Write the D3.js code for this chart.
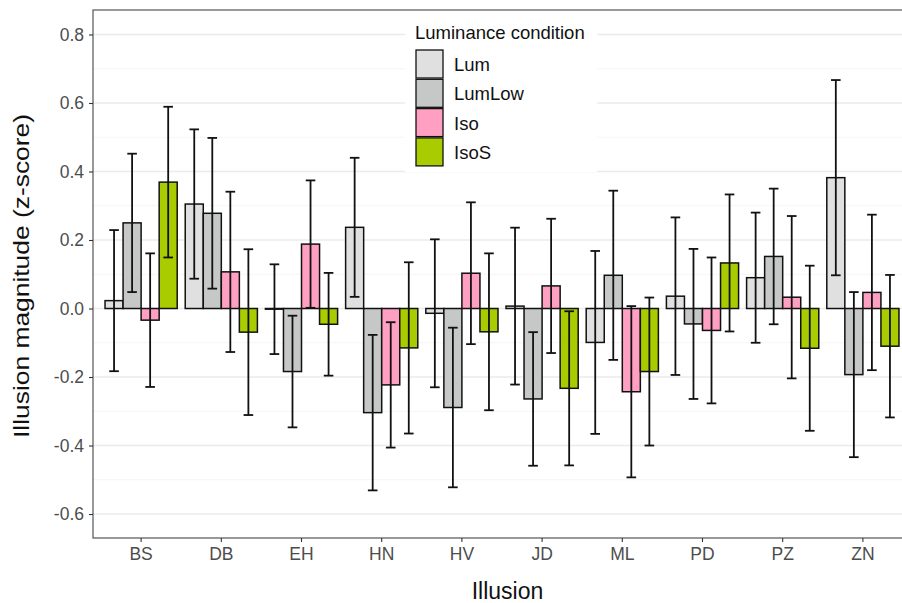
<!DOCTYPE html>
<html>
<head>
<meta charset="utf-8">
<script src="https://cdn.jsdelivr.net/npm/d3@7"></script>
<style>
  body { margin: 0; background: #fff; }
  text { font-family: "Liberation Sans", Arial, sans-serif; }
</style>
</head>
<body>
<div id="chart"></div>
<script>
var illusions = ["BS", "DB", "EH", "HN", "HV", "JD", "ML", "PD", "PZ", "ZN"];
var conditions = ["Lum", "LumLow", "Iso", "IsoS"];
var colors = ["#e0e0e0", "#c6c8c8", "#ff9fc2", "#a8cc00"];

// means per condition, one value per illusion
var lumMean    = [0.023, 0.305, -0.002, 0.237, -0.014, 0.007, -0.099, 0.036, 0.090, 0.382];
var lumLowMean = [0.250, 0.278, -0.184, -0.304, -0.289, -0.264, 0.097, -0.045, 0.152, -0.193];
var isoMean    = [-0.034, 0.107, 0.188, -0.223, 0.103, 0.066, -0.243, -0.064, 0.033, 0.047];
var isoSMean   = [0.369, -0.069, -0.046, -0.115, -0.068, -0.233, -0.184, 0.133, -0.116, -0.110];

// half width of the error bars
var lumErr    = [0.206, 0.218, 0.131, 0.203, 0.216, 0.229, 0.267, 0.230, 0.190, 0.285];
var lumLowErr = [0.202, 0.220, 0.163, 0.227, 0.233, 0.195, 0.247, 0.219, 0.198, 0.241];
var isoErr    = [0.195, 0.234, 0.186, 0.183, 0.207, 0.196, 0.250, 0.213, 0.237, 0.227];
var isoSErr   = [0.220, 0.242, 0.150, 0.250, 0.229, 0.225, 0.216, 0.200, 0.241, 0.208];

var yTicks = [-0.6, -0.4, -0.2, 0.0, 0.2, 0.4, 0.6, 0.8];
var yMinor = [-0.5, -0.3, -0.1, 0.1, 0.3, 0.5, 0.7];

var width = 902,
    height = 603;

var means = [lumMean, lumLowMean, isoMean, isoSMean];
var errs = [lumErr, lumLowErr, isoErr, isoSErr];

var data = [];
illusions.forEach(function(ill, i) {
    conditions.forEach(function(c, j) {
        data.push({ill: ill, cond: c, mean: means[j][i], err: errs[j][i]});
    });
});

var panel = {left: 93, top: 10, bottom: 538, right: 911};

var svg = d3.select("#chart")
    .append("svg")
    .attr("width", width)
    .attr("height", height);

var x = d3.scaleBand()
    .domain(illusions)
    .range([panel.left, panel.right])
    .paddingInner(0)
    .paddingOuter(0.1);

var xc = d3.scaleBand()
    .domain(conditions)
    .range([0, x.bandwidth() * 0.9]);

var y = d3.scaleLinear()
    .domain([-0.670, 0.8715])
    .range([panel.bottom, panel.top]);

var color = d3.scaleOrdinal().domain(conditions).range(colors);

// grid
svg.append("g").selectAll("line")
    .data(yMinor)
    .enter().append("line")
    .attr("x1", panel.left).attr("x2", panel.right)
    .attr("y1", function(d) { return y(d); })
    .attr("y2", function(d) { return y(d); })
    .style("stroke", "#f2f2f2")
    .style("stroke-width", 0.8);

svg.append("g").selectAll("line")
    .data(yTicks)
    .enter().append("line")
    .attr("x1", panel.left).attr("x2", panel.right)
    .attr("y1", function(d) { return y(d); })
    .attr("y2", function(d) { return y(d); })
    .style("stroke", "#ebebeb")
    .style("stroke-width", 1.3);

// bars
var bw = xc.bandwidth();
function bx(d) { return x(d.ill) + x.bandwidth() * 0.05 + xc(d.cond); }

svg.append("g").selectAll("rect")
    .data(data)
    .enter().append("rect")
    .attr("x", bx)
    .attr("width", bw)
    .attr("y", function(d) { return y(Math.max(0, d.mean)); })
    .attr("height", function(d) { return Math.abs(y(d.mean) - y(0)); })
    .style("fill", function(d) { return color(d.cond); })
    .style("stroke", "#111")
    .style("stroke-width", 1.5);

// error bars
var eb = svg.append("g").selectAll("g")
    .data(data)
    .enter().append("g")
    .style("stroke", "#111")
    .style("stroke-width", 1.8);

eb.append("line")
    .attr("x1", function(d) { return bx(d) + bw / 2; })
    .attr("x2", function(d) { return bx(d) + bw / 2; })
    .attr("y1", function(d) { return y(d.mean + d.err); })
    .attr("y2", function(d) { return y(d.mean - d.err); });

[1, -1].forEach(function(s) {
    eb.append("line")
        .attr("x1", function(d) { return bx(d) + bw / 2 - 4.8; })
        .attr("x2", function(d) { return bx(d) + bw / 2 + 4.8; })
        .attr("y1", function(d) { return y(d.mean + s * d.err); })
        .attr("y2", function(d) { return y(d.mean + s * d.err); });
});

// panel border
svg.append("rect")
    .attr("x", panel.left).attr("y", panel.top)
    .attr("width", panel.right - panel.left)
    .attr("height", panel.bottom - panel.top)
    .style("fill", "none")
    .style("stroke", "#555")
    .style("stroke-width", 1.2);

// axes
var yAxis = svg.append("g")
    .attr("transform", "translate(" + panel.left + ",0)")
    .call(d3.axisLeft(y).tickValues(yTicks).tickSize(4).tickPadding(5)
        .tickFormat(d3.format(".1f")));
var xAxis = svg.append("g")
    .attr("transform", "translate(0," + panel.bottom + ")")
    .call(d3.axisBottom(x).tickSize(4).tickPadding(6));

[yAxis, xAxis].forEach(function(a) {
    a.select(".domain").remove();
    a.selectAll("line").style("stroke", "#333").style("stroke-width", 1.1);
    a.selectAll("text")
        .style("font-size", "17.5px")
        .style("fill", "#4d4d4d")
        .style("font-family", "'Liberation Sans', Arial, sans-serif");
});
yAxis.selectAll("text").text(function(d) { return d3.format(".1f")(d).replace("−", "-"); });

svg.append("text")
    .attr("x", (panel.left + 922) / 2)
    .attr("y", 599)
    .attr("text-anchor", "middle")
    .style("font-size", "23px")
    .style("fill", "#111")
    .text("Illusion");

svg.append("text")
    .attr("transform", "translate(29," + ((panel.top + panel.bottom) / 2 + 2) + ") rotate(-90) scale(1.2,1)")
    .attr("text-anchor", "middle")
    .style("font-size", "22px")
    .style("fill", "#111")
    .text("Illusion magnitude (z-score)");

// legend
var legend = svg.append("g").attr("transform", "translate(405,13)");
legend.append("rect")
    .attr("width", 192).attr("height", 159)
    .style("fill", "#fff");
legend.append("text")
    .attr("x", 10).attr("y", 26)
    .style("font-size", "18.5px")
    .style("fill", "#111")
    .text("Luminance condition");

var key = legend.selectAll("g.key")
    .data(conditions)
    .enter().append("g")
    .attr("transform", function(d, i) { return "translate(11," + (37 + i * 29.3) + ")"; });
key.append("rect")
    .attr("width", 27).attr("height", 28)
    .style("fill", function(d) { return color(d); })
    .style("stroke", "#111")
    .style("stroke-width", 1.3);
key.append("text")
    .attr("x", 38).attr("y", 21)
    .style("font-size", "18.5px")
    .style("fill", "#111")
    .text(function(d) { return d; });
</script>
</body>
</html>
